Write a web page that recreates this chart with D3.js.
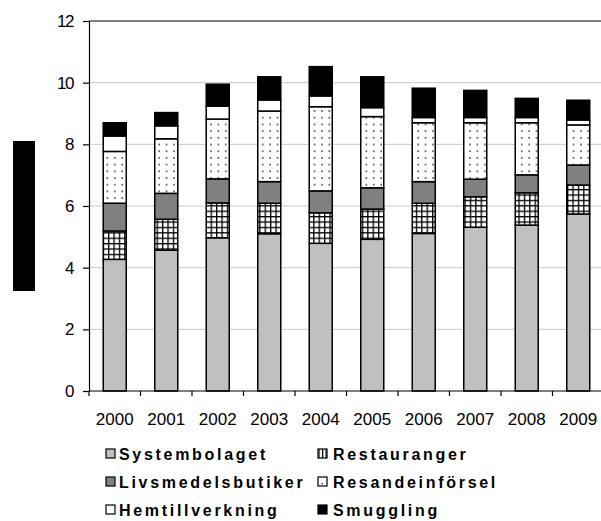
<!DOCTYPE html>
<html>
<head>
<meta charset="utf-8">
<script src="https://cdn.jsdelivr.net/npm/d3@7/dist/d3.min.js"></script>
<style>
  html, body { margin: 0; padding: 0; background: #fff; }
  svg { display: block; }
</style>
</head>
<body>
<div id="chart"></div>
<script>
// Alcohol consumption by source, litres per person, 2000–2009
const years = ["2000", "2001", "2002", "2003", "2004", "2005", "2006", "2007", "2008", "2009"];
const systembolaget     = [4.27, 4.57, 4.97, 5.10, 4.79, 4.92, 5.11, 5.31, 5.38, 5.74];
const restauranger      = [0.92, 1.00, 1.13, 0.99, 0.99, 0.98, 0.98, 0.99, 1.05, 0.94];
const livsmedelsbutiker = [0.90, 0.84, 0.78, 0.70, 0.71, 0.69, 0.70, 0.57, 0.58, 0.65];
const resandeinforsel   = [1.68, 1.77, 1.94, 2.29, 2.73, 2.31, 1.91, 1.83, 1.69, 1.30];
const hemtillverkning   = [0.50, 0.42, 0.42, 0.36, 0.35, 0.29, 0.17, 0.17, 0.17, 0.16];
const smuggling         = [0.43, 0.43, 0.71, 0.75, 0.95, 1.00, 0.95, 0.88, 0.62, 0.64];
const seriesNames = ["Systembolaget", "Restauranger", "Livsmedelsbutiker", "Resandeinförsel", "Hemtillverkning", "Smuggling"];
const yTicks = [0, 2, 4, 6, 8, 10, 12];

const seriesValues = [systembolaget, restauranger, livsmedelsbutiker, resandeinforsel, hemtillverkning, smuggling];
const fills = ["#c0c0c0", "url(#grid)", "#808080", "url(#dots)", "#ffffff", "#000000"];

const W = 601, H = 521;
const plot = { left: 89, top: 21, right: 604, bottom: 391 };

const svg = d3.select("#chart").append("svg")
  .attr("width", W).attr("height", H);

// fill patterns
const defs = svg.append("defs");
const grid = defs.append("pattern").attr("id", "grid")
  .attr("patternUnits", "userSpaceOnUse").attr("width", 5.4).attr("height", 5.4);
grid.append("rect").attr("width", 5.4).attr("height", 5.4).attr("fill", "#fff");
grid.append("rect").attr("x", 0).attr("y", 0).attr("width", 5.4).attr("height", 1.3).attr("fill", "#000");
grid.append("rect").attr("x", 0).attr("y", 0).attr("width", 1.3).attr("height", 5.4).attr("fill", "#000");

const dots = defs.append("pattern").attr("id", "dots")
  .attr("patternUnits", "userSpaceOnUse").attr("width", 7.4).attr("height", 6.7);
dots.append("rect").attr("width", 7.4).attr("height", 6.7).attr("fill", "#fff");
dots.append("rect").attr("x", 3).attr("y", 3).attr("width", 1.6).attr("height", 1.6).attr("fill", "#444");

const legendGrid = defs.append("pattern").attr("id", "lgrid")
  .attr("patternUnits", "userSpaceOnUse").attr("width", 3.5).attr("height", 9);
legendGrid.append("rect").attr("width", 3.5).attr("height", 9).attr("fill", "#fff");
legendGrid.append("rect").attr("x", 0).attr("width", 1.2).attr("height", 9).attr("fill", "#000");

// scales
const x = d3.scaleBand().domain(years).range([plot.left, plot.right]).padding(0);
const xBar = d3.scaleBand().domain(years).range([plot.left, plot.right])
  .paddingInner(0.553).paddingOuter(0.2765);
const y = d3.scaleLinear().domain([0, 12]).range([plot.bottom, plot.top]);

// gridlines
svg.append("g").selectAll("line")
  .data(yTicks.filter(t => t > 0 && t < 12))
  .join("line")
  .attr("x1", plot.left).attr("x2", plot.right)
  .attr("y1", d => y(d)).attr("y2", d => y(d))
  .attr("stroke", "#c8c8c8").attr("stroke-width", 1);

// top border of the plot area
svg.append("line")
  .attr("x1", plot.left).attr("x2", plot.right)
  .attr("y1", y(12)).attr("y2", y(12))
  .attr("stroke", "#000").attr("stroke-width", 1.2);

// stacked bars
const stackData = years.map((yr, i) => {
  const o = { year: yr };
  seriesNames.forEach((s, k) => { o[s] = seriesValues[k][i]; });
  return o;
});
const stacked = d3.stack().keys(seriesNames)(stackData);

svg.append("g").selectAll("g")
  .data(stacked)
  .join("g")
  .attr("fill", (d, i) => fills[i])
  .selectAll("rect")
  .data(d => d)
  .join("rect")
  .attr("x", d => xBar(d.data.year))
  .attr("width", xBar.bandwidth())
  .attr("y", d => y(d[1]))
  .attr("height", d => y(d[0]) - y(d[1]))
  .attr("stroke", "#000")
  .attr("stroke-width", 1.5);

// axes
const yAxis = svg.append("g")
  .attr("transform", `translate(${plot.left},0)`)
  .call(d3.axisLeft(y).tickValues(yTicks).tickSize(6).tickPadding(10).tickFormat(d3.format("d")));
yAxis.select(".domain").attr("stroke", "#000").attr("stroke-width", 1.2);
yAxis.selectAll(".tick line").attr("stroke", "#000").attr("stroke-width", 1.2);
yAxis.selectAll("text")
  .attr("font-family", "Liberation Sans, Arial, sans-serif")
  .attr("font-size", 17).attr("letter-spacing", "-1.5px").attr("fill", "#000");

const xAxis = svg.append("g")
  .attr("transform", `translate(0,${plot.bottom})`);
xAxis.append("line")
  .attr("x1", plot.left).attr("x2", plot.right)
  .attr("stroke", "#000").attr("stroke-width", 1.2);
// tick marks sit on category boundaries
xAxis.selectAll("line.tk")
  .data(years)
  .join("line").attr("class", "tk")
  .attr("x1", d => x(d)).attr("x2", d => x(d))
  .attr("y1", 0).attr("y2", 5)
  .attr("stroke", "#000").attr("stroke-width", 1.2);
xAxis.selectAll("text")
  .data(years)
  .join("text")
  .attr("x", d => x(d) + x.bandwidth() / 2)
  .attr("y", 34)
  .attr("text-anchor", "middle")
  .attr("font-family", "Liberation Sans, Arial, sans-serif")
  .attr("font-size", 17)
  .attr("fill", "#000")
  .text(d => d);

// vertical axis title block
svg.append("rect")
  .attr("x", 13).attr("y", 141).attr("width", 22).attr("height", 150)
  .attr("fill", "#000");

// legend
const legendFills = ["#c0c0c0", "url(#lgrid)", "#808080", "#ffffff", "#ffffff", "#000000"];
const legendPos = [
  { sx: 106, tx: 119, cy: 454 }, { sx: 318, tx: 333, cy: 454 },
  { sx: 106, tx: 119, cy: 482 }, { sx: 318, tx: 333, cy: 482 },
  { sx: 106, tx: 119, cy: 510 }, { sx: 318, tx: 333, cy: 510 }
];
const legend = svg.append("g").selectAll("g")
  .data(seriesNames)
  .join("g");
legend.append("rect")
  .attr("x", (d, i) => legendPos[i].sx)
  .attr("y", (d, i) => legendPos[i].cy - 5)
  .attr("width", 9).attr("height", 9)
  .attr("fill", (d, i) => legendFills[i])
  .attr("stroke", "#000").attr("stroke-width", 1.2);
legend.filter((d, i) => i === 3).append("rect")
  .attr("x", legendPos[3].sx + 3.5).attr("y", legendPos[3].cy + 1)
  .attr("width", 1.5).attr("height", 1.5).attr("fill", "#444");
legend.append("text")
  .attr("x", (d, i) => legendPos[i].tx)
  .attr("y", (d, i) => legendPos[i].cy)
  .attr("dy", "0.36em")
  .attr("font-family", "Liberation Sans, Arial, sans-serif")
  .attr("font-weight", "bold")
  .attr("font-size", 16)
  .attr("letter-spacing", "2.7px")
  .attr("fill", "#000")
  .text(d => d);
</script>
</body>
</html>
